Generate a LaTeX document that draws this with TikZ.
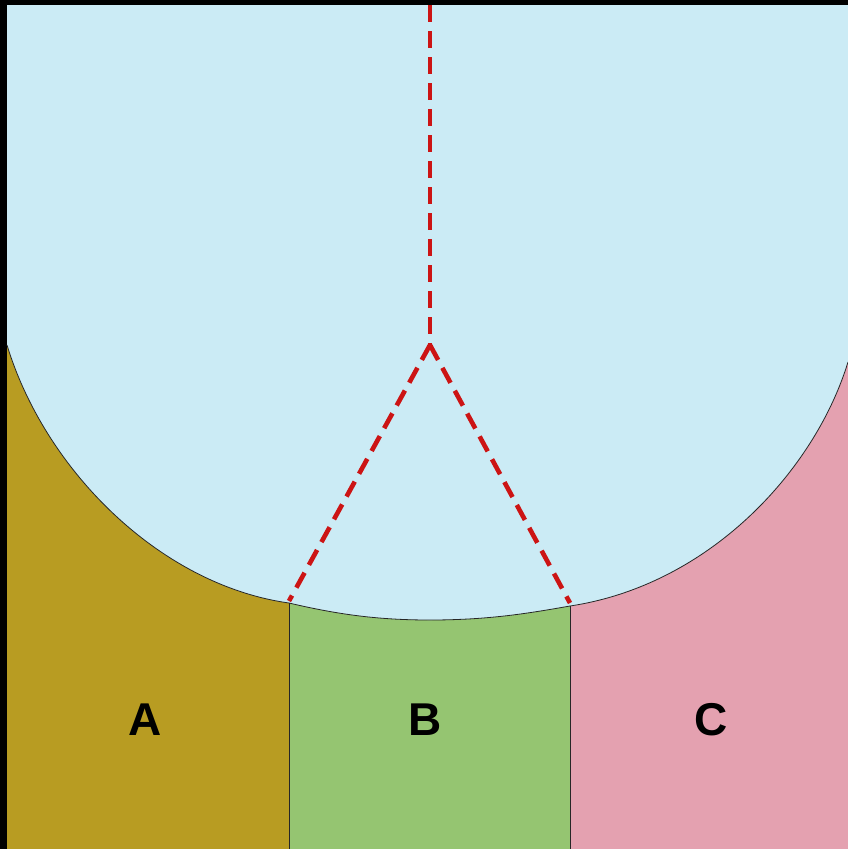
\documentclass[tikz,border=0pt]{standalone}
\usepackage{fontspec}
\setmainfont{Liberation Sans}
\definecolor{skyc}{HTML}{CBEBF5}
\definecolor{goldc}{HTML}{B89C22}
\definecolor{greenc}{HTML}{95C571}
\definecolor{pinkc}{HTML}{E4A1B0}
\definecolor{redc}{HTML}{CC1414}
\tikzset{
  outline/.style={draw=black!85, line width=0.8pt},
  reddash/.style={draw=redc, line width=4.6pt, dash pattern=on 17pt off 9pt},
  lab/.style={font=\bfseries\fontsize{46}{46}\selectfont, text=black, inner sep=0pt}
}
\def\bowlcurve{(7,345) .. controls (45,470) and (160,585) .. (289,603)
  .. controls (340,615) and (380,620) .. (430,620)
  .. controls (490,620) and (530,613) .. (570,606)
  .. controls (710,585) and (815,470) .. (848,362)}
\begin{document}
\begin{tikzpicture}[x=1pt,y=-1pt]
\useasboundingbox (0,0) rectangle (848,849);
\fill[black] (0,0) rectangle (848,849);
% lower regions
\fill[goldc] (7,300) rectangle (289,849);
\fill[greenc] (289,560) rectangle (570,849);
\fill[pinkc] (570,300) rectangle (848,849);
% upper light blue region
\fill[skyc] (848,5) -- (7,5) -- \bowlcurve -- cycle;
\draw[outline] \bowlcurve;
% dividers
\coordinate (ab) at (289,603);
\coordinate (abb) at (289,849);
\coordinate (bc) at (570,606);
\coordinate (bcb) at (570,849);
\draw[outline] (ab) -- (abb);
\draw[outline] (bc) -- (bcb);
% red dashed lines
\coordinate (top) at (430,5);
\coordinate (mid) at (430,345);
\coordinate (lft) at (289,601);
\coordinate (rgt) at (570,603);
\draw[reddash] (top) -- (mid);
\draw[reddash] (mid) -- (lft);
\draw[reddash] (mid) -- (rgt);
% labels
\node[lab] (A) at (145,720) {A};
\node[lab] (B) at (425,720) {B};
\node[lab] (C) at (711,720) {C};
\end{tikzpicture}
\end{document}
